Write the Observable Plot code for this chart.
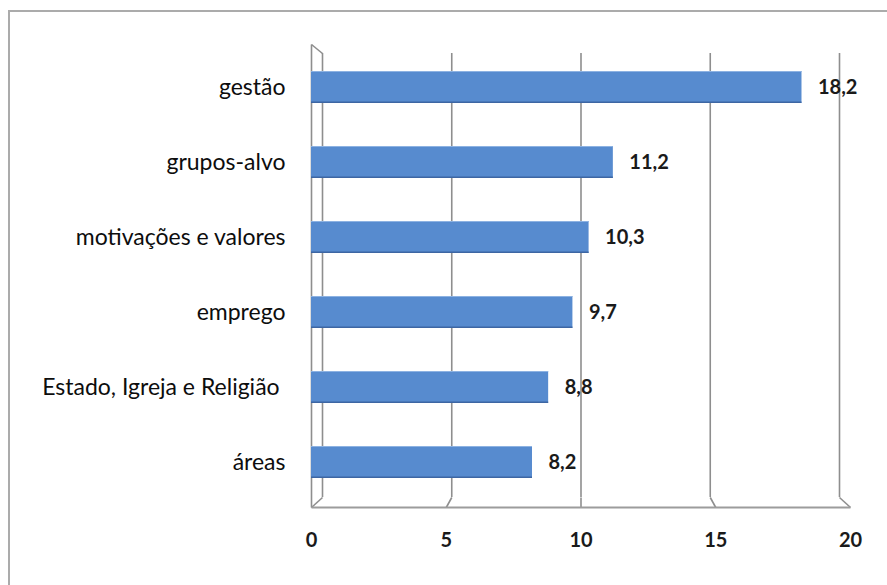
<!DOCTYPE html>
<html><head><meta charset="utf-8">
<script src="https://cdn.jsdelivr.net/npm/d3@7"></script>
<script src="https://cdn.jsdelivr.net/npm/@observablehq/plot@0.6"></script>
<style>
html,body{margin:0;padding:0;background:#fff;overflow:hidden}
#wrap{position:relative;width:887px;height:585px;overflow:hidden}
#wrap svg{position:absolute;left:0;top:0}
#border{position:absolute;left:8px;top:10px;width:900px;height:600px;border:2px solid #ababab;box-sizing:border-box}
</style></head><body>
<div id="wrap"><div id="border"></div></div>
<script>
// ---- data ----
const categories = ["gestão", "grupos-alvo", "motivações e valores", "emprego", "Estado, Igreja e Religião\u00a0", "áreas"];
const values = [18.2, 11.2, 10.3, 9.7, 8.8, 8.2];
const valueLabels = ["18,2", "11,2", "10,3", "9,7", "8,8", "8,2"];
const xTicks = [0, 5, 10, 15, 20];
const xTickLabels = ["0", "5", "10", "15", "20"];
const xDomain = [0, 20];

const data = categories.map((c, i) => ({category: c, value: values[i], label: valueLabels[i]}));

// ---- layout (3-D box of the Excel-style chart) ----
const W = 887, H = 585;
const font = "Lato, 'Open Sans', sans-serif";
const back = {left: 322, right: 839, top: 53, bottom: 497};
const front = {left: 311, right: 850, top: 44, bottom: 507};
const band = {top: 47, bottom: 503};
const grid = "#8e8e8e";

const backX = Plot.scale({x: {type: "linear", domain: xDomain, range: [back.left, back.right]}});
const frontX = Plot.scale({x: {type: "linear", domain: xDomain, range: [front.left, front.right]}});
const backY = Plot.scale({y: {type: "linear", domain: [0, 1], range: [back.bottom, back.top]}});
const toBack = v => backX.invert(frontX.apply(v));
const yFloor = backY.invert(front.bottom);
const yTop = backY.invert(front.top);

// back plane: walls, gridlines, floor
const backPlot = Plot.plot({
  width: W, height: H,
  marginLeft: back.left, marginRight: W - back.right,
  marginTop: back.top, marginBottom: H - back.bottom,
  x: {domain: xDomain, axis: null},
  y: {domain: [0, 1], axis: null},
  style: {background: "transparent"},
  marks: [
    Plot.ruleX(xTicks, {x: d => d, y1: 0, y2: 1, stroke: grid, strokeWidth: 1.6}),
    Plot.link(xTicks, {x1: d => d, y1: 0, x2: d => toBack(d), y2: yFloor, stroke: grid, strokeWidth: 1.6}),
    Plot.link([xDomain], {x1: d => toBack(d[0]), x2: d => toBack(d[0]), y1: yTop, y2: yFloor, stroke: grid, strokeWidth: 1.6}),
    Plot.link([xDomain], {x1: d => toBack(d[0]), y1: yTop, x2: d => d[0], y2: 1, stroke: grid, strokeWidth: 1.6}),
    Plot.link([xDomain], {x1: d => toBack(d[0]), x2: d => toBack(d[1]), y1: yFloor, y2: yFloor, stroke: "#9c9c9c", strokeWidth: 2.2})
  ]
});

// front: bars, labels, axes
const frontPlot = Plot.plot({
  width: W, height: H,
  marginLeft: front.left, marginRight: W - front.right,
  marginTop: band.top, marginBottom: H - band.bottom,
  x: {domain: xDomain},
  y: {domain: categories, paddingInner: 0.57, paddingOuter: 0.29},
  style: {background: "transparent", fontFamily: font, fontSize: "20px", color: "#1a1a1a"},
  marks: [
    Plot.barX(data, {x: "value", y: "category", fill: "#578bcf"}),
    Plot.barX(data, {x: "value", y: "category", fill: "#8db2e2", insetBottom: 31}),
    Plot.barX(data, {x: "value", y: "category", fill: "#3d66a3", insetTop: 30.5}),
    Plot.text(data, {x: "value", y: "category", text: "label", textAnchor: "start", dx: 16, fontWeight: "bold", fontSize: 20, fill: "#1a1a1a"}),
    Plot.axisX({ticks: xTicks, tickFormat: (d, i) => xTickLabels[i], tickSize: 0, tickPadding: 29, fontWeight: "bold", fontSize: 20, label: null}),
    Plot.axisY({tickSize: 0, tickPadding: 26, fontWeight: "normal", fontSize: 23, fill: "#0d0d0d", label: null})
  ]
});

const wrap = document.getElementById("wrap");
wrap.appendChild(backPlot);
wrap.appendChild(frontPlot);
</script>
</body></html>
